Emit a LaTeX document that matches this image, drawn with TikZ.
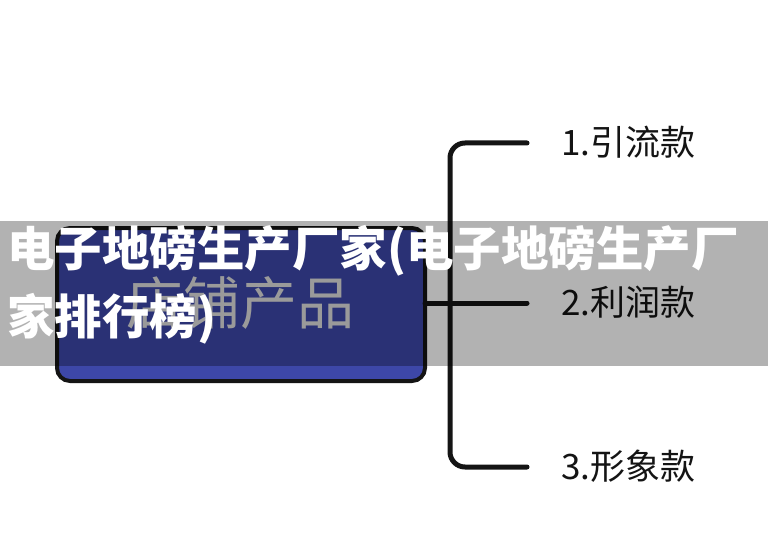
\documentclass[tikz,border=0pt]{standalone}
\usepackage{fontspec}
\newfontfamily\cjk{Noto Sans CJK SC}
\usepackage{tikz}
\definecolor{cajaazul}{RGB}{61,71,168}
\definecolor{textocaja}{RGB}{222,222,222}
\definecolor{trazo}{RGB}{20,20,20}
\tikzset{
  rama/.style={trazo, line width=5pt, line cap=round, line join=round},
  etiqueta/.style={anchor=west, inner sep=0pt, text=trazo, font=\cjk\fontsize{35}{38}\selectfont},
  titulo/.style={anchor=base west, inner sep=0pt, text=white, font=\cjk\bfseries\fontsize{47.5}{68}\selectfont}
}
\begin{document}
\begin{tikzpicture}[x=1pt, y=-1pt]
            % Fondo
            \useasboundingbox (0,0) rectangle (768,556);
            \fill[white] (0,0) rectangle (768,556);

            % Caja
            \draw[trazo, fill=cajaazul, line width=4pt, rounded corners=13pt] (57,228) rectangle (425,381);
            \node[inner sep=0pt, text=textocaja, font=\cjk\fontsize{57}{60}\selectfont] (tienda) at (240,303) {店铺产品};
            \coordinate (borde) at (425,303);

            % Ramas
            \coordinate (fork) at (450,303);
            \coordinate (fin1) at (527,143);
            \coordinate (fin2) at (527,303);
            \coordinate (fin3) at (527,467);
            \draw[rama, rounded corners=15pt] (fin1) -- (fork |- fin1) -- (fork |- fin3) -- (fin3);
            \draw[rama] (borde) -- (fin2);

            % Etiquetas
            \node[etiqueta] (tipo1) at (561,142) {1.引流款};
            \node[etiqueta] (tipo2) at (561,302) {2.利润款};
            \node[etiqueta] (tipo3) at (561,466) {3.形象款};

            % Banda gris
            \fill[black, opacity=0.3] (0,221) rectangle (768,366);
            \node[titulo] (titulo1) at (7,266) {电子地磅生产厂家(电子地磅生产厂};
            \node[titulo] (titulo2) at (7,334) {家排行榜)};
\end{tikzpicture}
\end{document}
